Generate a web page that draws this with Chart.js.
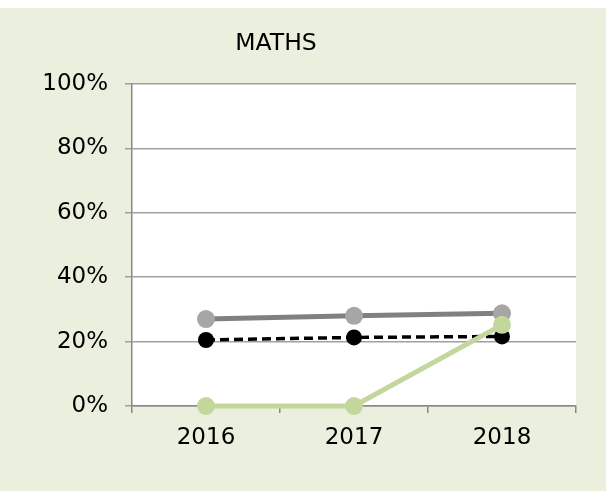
<!DOCTYPE html>
<html>
<head>
<meta charset="utf-8">
<script src="https://cdn.jsdelivr.net/npm/chart.js@4"></script>
<style>
  html, body { margin: 0; padding: 0; background: #fff; }
  #wrap { position: absolute; left: 0; top: 8px; width: 606px; height: 483px; background: #EBEFDE; }
</style>
</head>
<body>
<div id="wrap"><canvas id="chart" width="606" height="483"></canvas></div>
<script>
/* ── DATA ─────────────────────────────────────────────── */
const years     = ['2016', '2017', '2018'];
const seriesA   = [27.0, 28.0, 28.8];   // grey
const seriesB   = [20.5, 21.3, 21.6];   // black dashed
const seriesC   = [0, 0, 25.2];         // green
const yTicks    = [0, 20, 40, 60, 80, 100];
const chartTitle = 'MATHS';

const FONT = '"DejaVu Sans", Verdana, sans-serif';

/* ── PLUGINS ──────────────────────────────────────────── */
const plotBg = {
  id: 'plotBg',
  beforeDraw(chart) {
    const { ctx, chartArea: a } = chart;
    ctx.save();
    ctx.fillStyle = '#ffffff';
    ctx.fillRect(a.left, a.top, a.right - a.left, a.bottom - a.top);
    ctx.restore();
  }
};

const sideTitle = {
  id: 'sideTitle',
  afterDraw(chart) {
    const ctx = chart.ctx;
    ctx.save();
    ctx.font = '23.5px ' + FONT;
    ctx.fillStyle = '#000';
    ctx.textAlign = 'center';
    ctx.textBaseline = 'middle';
    ctx.fillText(chartTitle, 276, 36);
    ctx.restore();
  }
};

/* ── CHART ────────────────────────────────────────────── */
new Chart(document.getElementById('chart'), {
  type: 'line',
  data: {
    labels: years,
    datasets: [
      { label: 'C', data: seriesC, borderColor: '#C3D69B', backgroundColor: '#C3D69B',
        borderWidth: 5, pointRadius: 9, pointBorderWidth: 0, clip: false },
      { label: 'B', data: seriesB, borderColor: '#000', backgroundColor: '#000',
        borderWidth: 3.5, borderDash: [9, 5], pointRadius: 8, pointBorderWidth: 0, clip: false },
      { label: 'A', data: seriesA, borderColor: '#808080', backgroundColor: '#A6A6A6',
        borderWidth: 5, pointRadius: 9, pointBorderWidth: 0, clip: false },
    ],
  },
  options: {
    responsive: false,
    animation: false,
    layout: { padding: { top: 76, right: 30, bottom: 35, left: 0 } },
    plugins: { legend: { display: false }, tooltip: { enabled: false } },
    scales: {
      x: {
        offset: true,
        grid: { offset: true, drawOnChartArea: false, drawTicks: true, tickLength: 7, color: '#888', lineWidth: 1.5 },
        border: { color: '#888', width: 1.5 },
        ticks: { font: { family: FONT, size: 23 }, color: '#000', padding: 11 },
        afterFit: s => { s.height = 50; },
      },
      y: {
        min: 0, max: 100,
        afterBuildTicks: s => { s.ticks = yTicks.map(v => ({ value: v })); },
        grid: { color: '#A0A0A0', lineWidth: 1.5, tickLength: 7 },
        border: { color: '#888', width: 1.5 },
        ticks: { font: { family: FONT, size: 23 }, color: '#000', padding: 17, callback: v => v + '%' },
        afterFit: s => { s.width = 132; },
      },
    },
  },
  plugins: [plotBg, sideTitle],
});
</script>
</body>
</html>
